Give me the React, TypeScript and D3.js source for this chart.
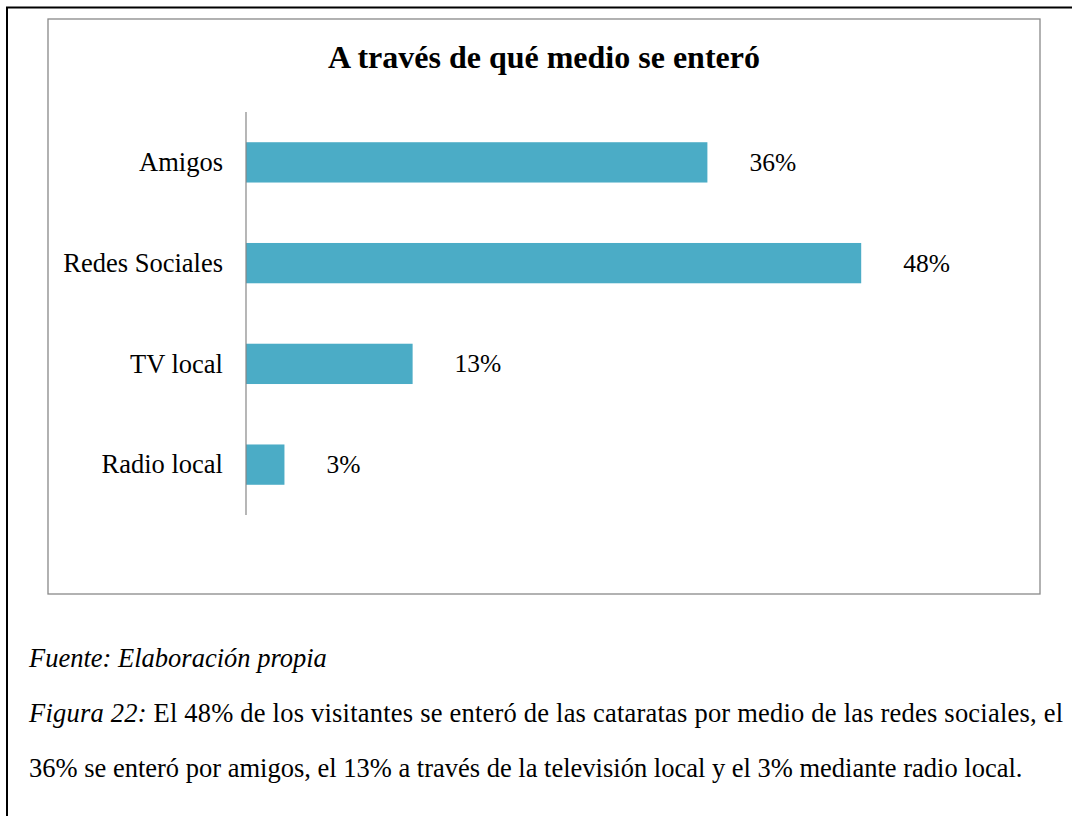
import React from "react";
import * as d3 from "d3";

const categories = ["Amigos", "Redes Sociales", "TV local", "Radio local"];
const values = [0.36, 0.48, 0.13, 0.03];
const valueLabels = ["36%", "48%", "13%", "3%"];
const title = "A través de qué medio se enteró";
const sourceLine = "Fuente: Elaboración propia";
const figLabel = "Figura 22:";
const captionLine1 = " El 48% de los visitantes se enteró de las cataratas por medio de las redes sociales, el";
const captionLine2 = "36% se enteró por amigos, el 13% a través de la televisión local y el 3% mediante radio local.";

const W = 1072;
const H = 816;
const FONT = '"Liberation Serif", Tinos, "Times New Roman", Times, "DejaVu Serif", serif';

export default function App() {
  const x = d3.scaleLinear().domain([0, 0.6]).range([246, 1015]);
  const y = d3
    .scaleBand<string>()
    .domain(categories)
    .range([112, 515])
    .paddingInner(0.6)
    .paddingOuter(0.3);

  const txt = { fontFamily: FONT };

  return (
    <div style={{ position: "fixed", left: 0, top: 0, width: W, height: H, background: "#fff" }}>
      <svg width={W} height={H} style={{ display: "block", fontFamily: FONT }}>
        <rect x={0} y={0} width={W} height={H} fill="#fff" />
        <path d={`M7,${H + 5} V7.5 H${W + 5}`} fill="none" stroke="#000" strokeWidth={2} />
        <rect x={48} y={19} width={992} height={575} fill="#fff" stroke="#898989" strokeWidth={1.3} />
        <text style={txt} x={544} y={68} textAnchor="middle" fontSize={32} fontWeight="bold" fill="#000">
          {title}
        </text>
        {categories.map((c, i) => {
          const yy = y(c)!;
          const bw = y.bandwidth();
          return (
            <g key={c}>
              <rect x={x(0)} y={yy} width={x(values[i]) - x(0)} height={bw} fill="#4BACC6" />
              <text style={txt} x={223} y={yy + bw / 2} dy="0.33em" textAnchor="end" fontSize={26.5} fill="#000">
                {c}
              </text>
              <text style={txt} x={x(values[i]) + 42} y={yy + bw / 2} dy="0.33em" textAnchor="start" fontSize={25.5} fill="#000">
                {valueLabels[i]}
              </text>
            </g>
          );
        })}
        <line x1={x(0)} x2={x(0)} y1={112} y2={515} stroke="#868686" strokeWidth={1.2} />
        <text style={txt} x={29} y={667} fontSize={26.5} fontStyle="italic" fill="#000">
          {sourceLine}
        </text>
        <text style={txt} x={29} y={722} fontSize={26.5} fill="#000" textLength={1034} lengthAdjust="spacing">
          <tspan fontStyle="italic">{figLabel}</tspan>
          <tspan>{captionLine1}</tspan>
        </text>
        <text style={txt} x={29} y={777} fontSize={26.5} fill="#000">
          {captionLine2}
        </text>
      </svg>
    </div>
  );
}
